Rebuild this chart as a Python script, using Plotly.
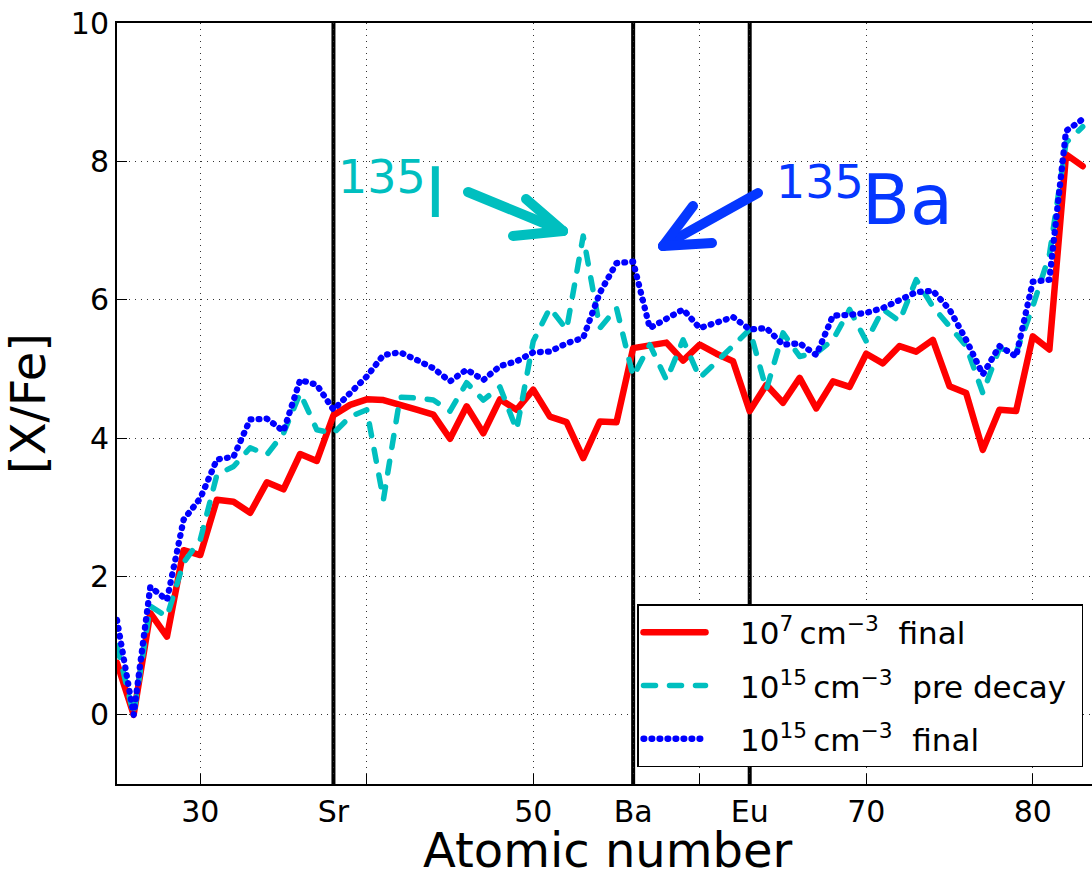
import plotly.graph_objects as go

# Atomic numbers from Mn (25) to Bi (83)
atomic_number = list(range(25, 84))

# [X/Fe] abundance patterns
xfe_1e7_final = [
    0.75, 0.00, 1.47, 1.13, 2.38, 2.31, 3.11, 3.08, 2.92, 3.36,
    3.26, 3.77, 3.67, 4.33, 4.48, 4.56, 4.55, 4.47, 4.41, 4.34,
    3.99, 4.46, 4.07, 4.56, 4.41, 4.70, 4.31, 4.23, 3.71, 4.24,
    4.23, 5.30, 5.35, 5.38, 5.12, 5.35, 5.22, 5.11, 4.39, 4.77,
    4.51, 4.87, 4.43, 4.82, 4.74, 5.22, 5.08, 5.33, 5.25, 5.42,
    4.75, 4.65, 3.83, 4.41, 4.39, 5.47, 5.28, 8.10, 7.93,
]
xfe_1e15_predecay = [
    1.00, 0.00, 1.57, 1.42, 2.20, 2.53, 3.47, 3.59, 3.86, 3.76,
    4.07, 4.65, 4.12, 4.07, 4.31, 4.41, 3.11, 4.59, 4.58, 4.55,
    4.39, 4.80, 4.55, 4.74, 4.12, 5.40, 5.88, 5.57, 6.92, 5.59,
    5.88, 4.89, 5.35, 4.84, 5.42, 4.87, 5.10, 5.33, 5.57, 4.70,
    5.52, 5.18, 5.23, 5.42, 5.86, 5.40, 5.86, 5.69, 6.29, 5.90,
    5.61, 5.33, 4.65, 5.30, 5.23, 5.90, 6.65, 8.27, 8.50,
]
xfe_1e15_final = [
    1.37, 0.00, 1.85, 1.66, 2.82, 3.13, 3.69, 3.73, 4.27, 4.28,
    4.10, 4.84, 4.77, 4.41, 4.65, 4.89, 5.20, 5.24, 5.13, 5.01,
    4.82, 4.99, 4.84, 5.04, 5.11, 5.24, 5.25, 5.37, 5.45, 6.10,
    6.53, 6.55, 5.59, 5.73, 5.86, 5.59, 5.67, 5.75, 5.57, 5.59,
    5.35, 5.37, 5.20, 5.77, 5.78, 5.81, 5.88, 6.00, 6.11, 6.13,
    5.86, 5.42, 4.92, 5.33, 5.18, 6.26, 6.29, 8.44, 8.61,
]

series_names = [
    "\u00a0\u00a0\u00a010<sup>7</sup>\u2009cm<sup>\u22123</sup>\u00a0\u00a0final",
    "\u00a0\u00a0\u00a010<sup>15</sup>\u2009cm<sup>\u22123</sup>\u00a0\u00a0pre decay\u00a0",
    "\u00a0\u00a0\u00a010<sup>15</sup>\u2009cm<sup>\u22123</sup>\u00a0\u00a0final",
]

# Marked elements (vertical lines) and axis tick labels
marked_elements = [38, 56, 63]
x_tickvals = [30, 38, 40, 50, 56, 60, 63, 70, 80]
x_ticktext = ["30", "Sr", "", "50", "Ba", "", "Eu", "70", "80"]
y_tickvals = [0, 2, 4, 6, 8, 10]

FONT = "DejaVu Sans"
RED = "#ff0000"
CYAN = "#00bfbf"
BLUE = "#0000ff"
NOTE_BLUE = "#0537ff"

W, H = 1092, 877
L, R, T, B = 117, 0, 23, 93
PW, PH = W - L - R, H - T - B


def px(x):
    return (x - L) / PW


def py(y):
    return (H - B - y) / PH


fig = go.Figure()

styles = [
    dict(color=RED, width=6.5),
    dict(color=CYAN, width=5.5, dash="12px,14px"),
    dict(color=BLUE, width=6.3, dash="0.8px,7.2px"),
]
for i, (vals, name, ln) in enumerate(
    zip([xfe_1e7_final, xfe_1e15_predecay, xfe_1e15_final], series_names, styles)
):
    fig.add_trace(
        go.Scatter(
            x=atomic_number,
            y=vals,
            mode="lines",
            name=name,
            line=ln,
            legendgroup=f"g{i}",
        )
    )

shapes = []
for z in marked_elements:
    shapes.append(
        dict(
            type="line", xref="x", yref="paper", x0=z, x1=z, y0=0, y1=1,
            line=dict(color="black", width=4), layer="between",
        )
    )


def arrow(tail, tip, head1, head2, color):
    out = []
    for a, b in [(tail, tip), (head1, tip), (head2, tip)]:
        out.append(
            dict(
                type="line", xref="paper", yref="paper",
                x0=px(a[0]), y0=py(a[1]), x1=px(b[0]), y1=py(b[1]),
                line=dict(color=color, width=10), layer="above",
            )
        )
    return out


shapes += arrow((468, 192), (563, 231), (526, 199), (513, 236), CYAN)
shapes += arrow((758, 193), (663, 246), (693, 206), (712, 243), NOTE_BLUE)

annotations = [
    dict(text="135", x=px(336), y=py(177), xref="paper", yref="paper",
         xanchor="left", yanchor="middle", showarrow=False,
         font=dict(family=FONT, size=46, color=CYAN)),
    dict(text="I", x=px(423), y=py(193), xref="paper", yref="paper",
         xanchor="left", yanchor="middle", showarrow=False,
         font=dict(family=FONT, size=70, color=CYAN)),
    dict(text="135", x=px(774), y=py(182), xref="paper", yref="paper",
         xanchor="left", yanchor="middle", showarrow=False,
         font=dict(family=FONT, size=46, color=NOTE_BLUE)),
    dict(text="Ba", x=px(860), y=py(200), xref="paper", yref="paper",
         xanchor="left", yanchor="middle", showarrow=False,
         font=dict(family=FONT, size=70, color=NOTE_BLUE)),
    # x-axis title
    dict(text="Atomic number", x=px(608), y=py(850), xref="paper", yref="paper",
         xanchor="center", yanchor="middle", showarrow=False,
         font=dict(family=FONT, size=48, color="black")),
]

fig.update_layout(
    width=W,
    height=H,
    margin=dict(l=L, r=R, t=T, b=B, pad=0),
    paper_bgcolor="white",
    plot_bgcolor="white",
    font=dict(family=FONT, color="black"),
    shapes=shapes,
    annotations=annotations,
    legend=dict(
        x=px(1083), xanchor="right",
        y=py(767), yanchor="bottom",
        bgcolor="white", bordercolor="black", borderwidth=1.5,
        font=dict(family=FONT, size=31, color="black"),
        itemwidth=62, tracegroupgap=10, traceorder="grouped",
    ),
    showlegend=True,
)

fig.update_xaxes(
    range=[25, 25 + PW / 16.65],
    tickmode="array", tickvals=x_tickvals, ticktext=x_ticktext,
    ticks="inside", ticklen=10, tickwidth=1, tickcolor="black",
    tickfont=dict(family=FONT, size=30, color="black"),
    showline=True, linecolor="black", linewidth=2, mirror=True,
    showgrid=True, gridcolor="#333333", gridwidth=1, griddash="1px,5px",
    zeroline=False,
)
fig.update_yaxes(
    range=[-1, 10],
    tickmode="array", tickvals=y_tickvals,
    ticks="inside", ticklen=10, tickwidth=1, tickcolor="black",
    tickfont=dict(family=FONT, size=30, color="black"),
    showline=True, linecolor="black", linewidth=2, mirror=False,
    showgrid=True, gridcolor="#333333", gridwidth=1, griddash="1px,5px",
    zeroline=False,
    title=dict(text="[X/Fe]", font=dict(family=FONT, size=48, color="black"), standoff=10),
)

# Round line caps for the dotted/dashed traces and arrow strokes
post = """
var gd = document.getElementById('{plot_id}');
function roundCaps() {
  gd.querySelectorAll('path.js-line').forEach(function (p) {
    p.style.strokeLinecap = 'round';
    p.style.strokeLinejoin = 'round';
  });
  gd.querySelectorAll('.shapelayer path').forEach(function (p) {
    if (p.style.stroke !== 'rgb(0, 0, 0)') { p.style.strokeLinecap = 'round'; }
  });
}
roundCaps();
gd.on('plotly_afterplot', roundCaps);
"""

fig.write_html("out.html", post_script=post)
